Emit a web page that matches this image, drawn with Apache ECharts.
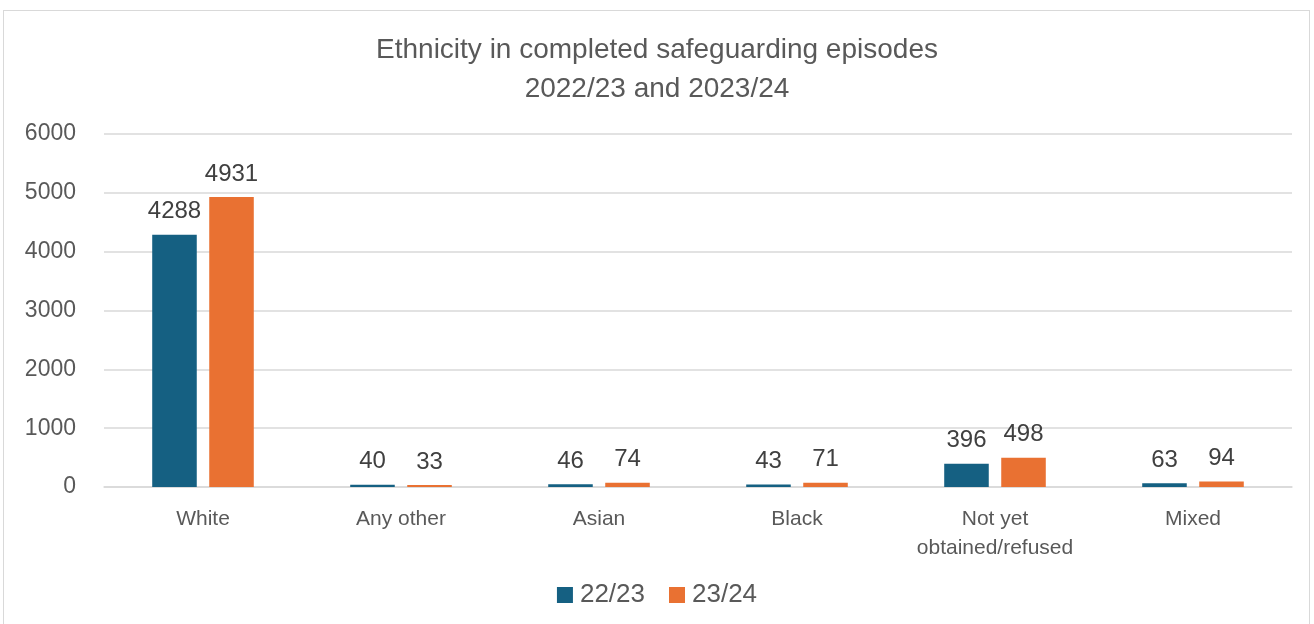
<!DOCTYPE html>
<html><head><meta charset="utf-8">
<script src="https://cdn.jsdelivr.net/npm/echarts@6/dist/echarts.min.js"></script>
<style>html,body{margin:0;padding:0;background:#fff}#c{width:1314px;height:624px}
#frame{position:absolute;left:3px;top:10px;width:1307px;height:620px;border:1px solid #d9d9d9;box-sizing:border-box;pointer-events:none}</style>
</head><body><div id="c"></div><div id="frame"></div>
<script>
const categories = ['White', 'Any other', 'Asian', 'Black', 'Not yet\nobtained/refused', 'Mixed'];
const series2223 = [4288, 40, 46, 43, 396, 63];
const series2324 = [4931, 33, 74, 71, 498, 94];
const seriesNames = ['22/23', '23/24'];
const yTicks = { min: 0, max: 6000, interval: 1000 };

const chart = echarts.init(document.getElementById('c'));
const labelStyle = { show: true, position: 'top', color: '#404040', fontSize: 24, fontFamily: 'Liberation Sans', distance: 11 };
chart.setOption({
  animation: false,
  title: {
    text: 'Ethnicity in completed safeguarding episodes\n2022/23 and 2023/24',
    left: 'center', top: 26,
    textStyle: { fontFamily: 'Liberation Sans', fontSize: 28, fontWeight: 'normal', color: '#595959', lineHeight: 39 }
  },
  legend: {
    data: seriesNames, bottom: 11, left: 'center', itemWidth: 16, itemHeight: 16, itemGap: 24, icon: 'rect',
    textStyle: { fontFamily: 'Liberation Sans', fontSize: 26, color: '#595959', padding: [0, 0, 0, 2] }
  },
  grid: { left: 104, right: 22, top: 134, bottom: 137, containLabel: false },
  xAxis: {
    type: 'category', data: categories,
    axisLine: { lineStyle: { color: '#d9d9d9', width: 1.5 } }, axisTick: { show: false },
    axisLabel: { color: '#595959', fontSize: 21, fontFamily: 'Liberation Sans', margin: 18, lineHeight: 29, interval: 0 }
  },
  yAxis: {
    type: 'value', min: yTicks.min, max: yTicks.max, interval: yTicks.interval,
    axisLine: { show: false }, axisTick: { show: false },
    splitLine: { lineStyle: { color: '#d9d9d9', width: 1.5 } },
    axisLabel: { color: '#595959', fontSize: 23, fontFamily: 'Liberation Sans', margin: 28, formatter: v => String(v) }
  },
  series: [
    { name: seriesNames[0], type: 'bar', data: series2223, barWidth: '22.5%', barGap: '28%',
      itemStyle: { color: '#156082' }, label: labelStyle },
    { name: seriesNames[1], type: 'bar', data: series2324, barWidth: '22.5%',
      itemStyle: { color: '#E97132' }, label: labelStyle }
  ]
});
</script></body></html>
